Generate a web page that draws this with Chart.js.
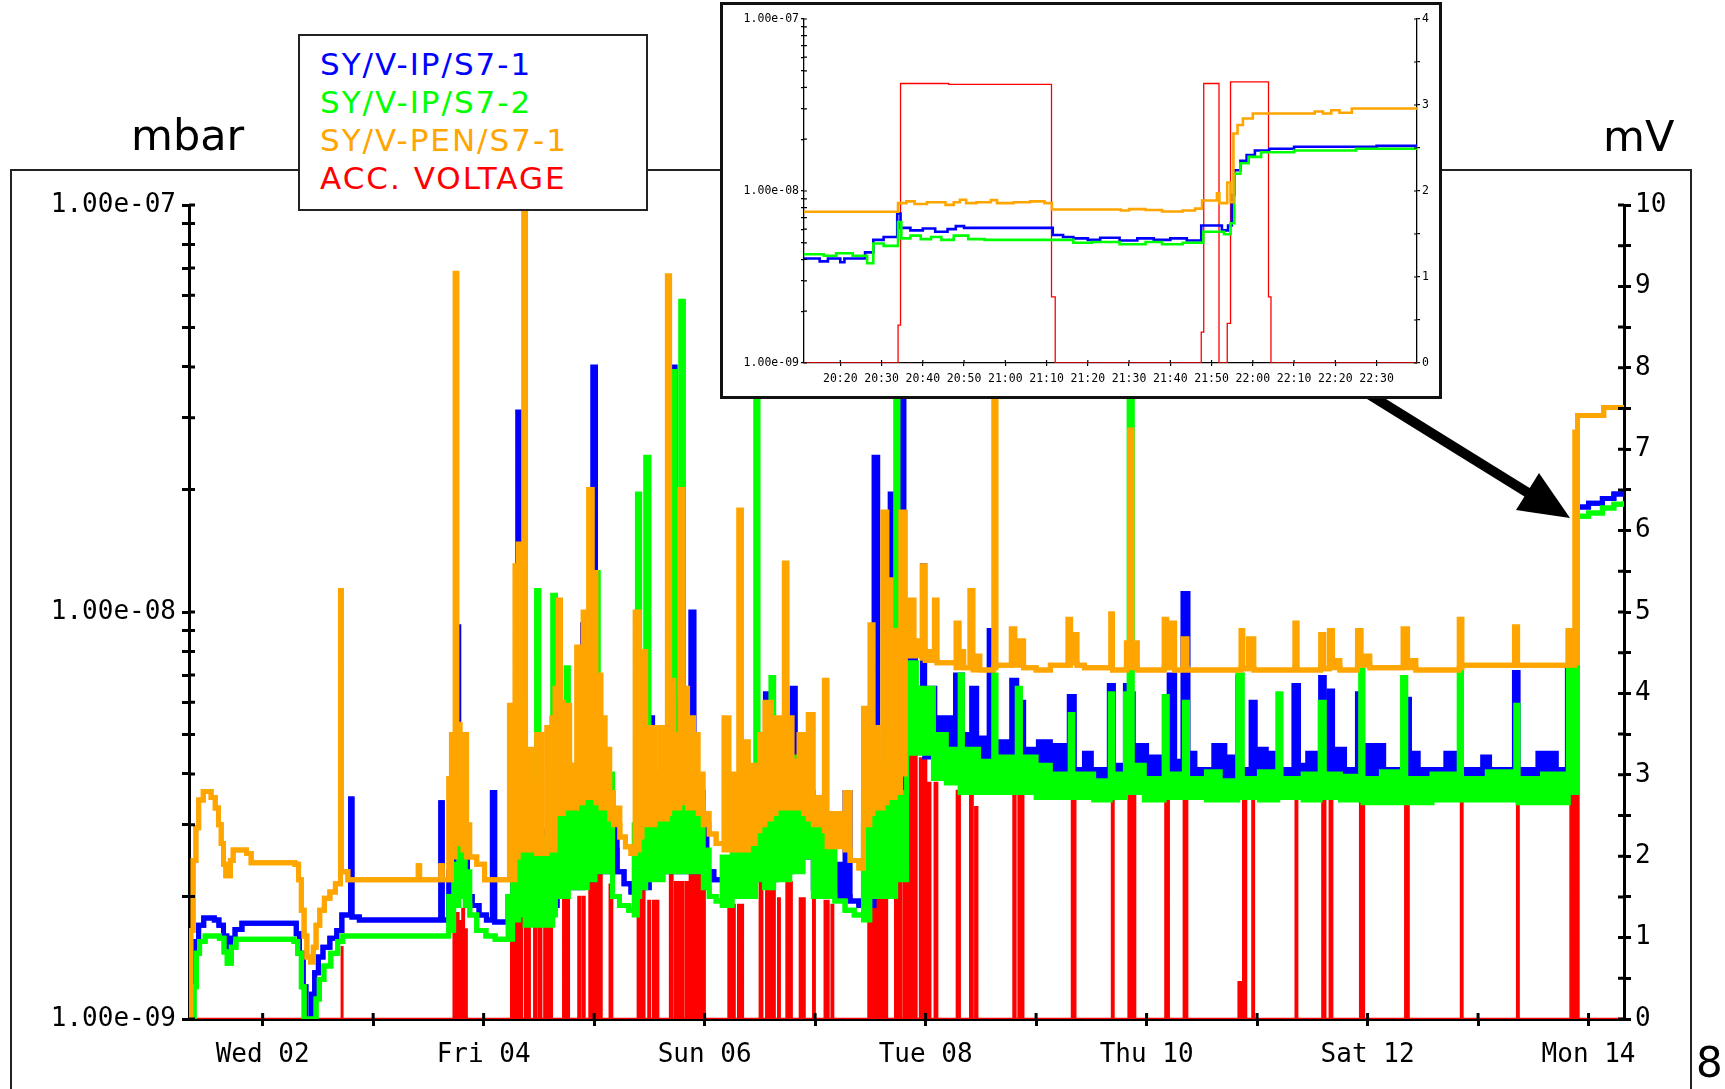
<!DOCTYPE html>
<html>
<head>
<meta charset="utf-8">
<title>SY vacuum and acceleration voltage</title>
<script src="https://cdn.jsdelivr.net/npm/chart.js@4.4.1/dist/chart.umd.min.js"></script>
<style>
  html, body { margin: 0; padding: 0; background: #fff; }
  body { width: 1725px; height: 1089px; position: relative; overflow: hidden; font-family: "DejaVu Sans", sans-serif; }
  #frame { position: absolute; left: 10px; top: 169px; width: 1682px; height: 960px; box-sizing: border-box; border: 2px solid #222; }
  #main { position: absolute; left: 0; top: 0; }
  .unit { position: absolute; font-size: 43px; line-height: 43px; color: #000; white-space: nowrap; }
  #legend { position: absolute; left: 298px; top: 34px; width: 350px; height: 177px; box-sizing: border-box; border: 2px solid #222; background: #fff; padding: 9px 0 0 20px; font-size: 31px; line-height: 38px; letter-spacing: 2px; white-space: nowrap; }
  #arrow { position: absolute; left: 0; top: 0; }
  #inset { position: absolute; left: 720px; top: 2px; width: 722px; height: 397px; box-sizing: border-box; border: 3px solid #111; background: #fff; }
  #insetCanvas { position: absolute; left: 0; top: 0; }
</style>
</head>
<body>
<div id="frame"></div>
<canvas id="main" width="1725" height="1089" style="width:1725px;height:1089px"></canvas>
<div class="unit" style="left:131px;top:114px">mbar</div>
<div class="unit" style="left:1603px;top:115px">mV</div>
<div class="unit" style="left:1696px;top:1041px;font-size:42px">8</div>
<div id="legend">
  <div style="color:#0000ff">SY/V-IP/S7-1</div>
  <div style="color:#00ff00">SY/V-IP/S7-2</div>
  <div style="color:#ffa500">SY/V-PEN/S7-1</div>
  <div style="color:#ff0000">ACC. VOLTAGE</div>
</div>
<svg id="arrow" width="1725" height="1089">
  <line x1="1362" y1="390" x2="1530" y2="494" stroke="#000" stroke-width="10"/>
  <polygon points="1570,518 1516,510 1539,473" fill="#000"/>
</svg>
<div id="inset"><canvas id="insetCanvas" width="716" height="391" style="width:716px;height:391px"></canvas></div>

<script>
// hours counted from Wed 02 00:00
const dayTicks = [0, 24, 48, 72, 96, 120, 144, 168, 192, 216, 240, 264, 288]
const dayLabels = ['Wed 02', '', 'Fri 04', '', 'Sun 06', '', 'Tue 08', '', 'Thu 10', '', 'Sat 12', '', 'Mon 14']

const pressureTicks = [1e-9, 2e-9, 3e-9, 4e-9, 5e-9, 6e-9, 7e-9, 8e-9, 9e-9,
    1e-8, 2e-8, 3e-8, 4e-8, 5e-8, 6e-8, 7e-8, 8e-8, 9e-8, 1e-7]
const pressureLabels = { '1e-9': '1.00e-09', '1e-8': '1.00e-08', '1e-7': '1.00e-07' }

// [hour, low, high] - high omitted where the trace is a single line
const penS71 = [
    [-16, 1.0e-9], [-15.6, 1.65e-9], [-15.1, 2.45e-9], [-14.5, 2.95e-9], [-13.9, 3.45e-9], [-12.9, 3.62e-9],
    [-11.2, 3.5e-9], [-10.3, 3.3e-9], [-9.6, 3.0e-9], [-9.0, 2.7e-9], [-8.5, 2.4e-9], [-8.0, 2.25e-9],
    [-7.0, 2.45e-9], [-6.4, 2.6e-9], [-3.5, 2.55e-9], [-2.5, 2.42e-9], [7.0, 2.4e-9], [7.8, 2.2e-9],
    [8.4, 1.85e-9], [9.0, 1.6e-9], [9.6, 1.42e-9], [10.4, 1.38e-9], [11.0, 1.5e-9], [11.6, 1.7e-9],
    [12.4, 1.85e-9], [13.4, 1.98e-9], [14.6, 2.05e-9], [15.8, 2.15e-9], [16.9, 1.13e-8], [17.1, 2.3e-9],
    [18.5, 2.2e-9], [33.8, 2.38e-9], [34.1, 2.2e-9], [38.7, 2.38e-9], [39.0, 2.2e-9],
    [40.4, 2.2e-9, 3.9e-9], [41.0, 2.5e-9, 5.0e-9], [41.8, 2.8e-9, 6.8e-8], [42.2, 2.8e-9, 5.3e-9],
    [42.9, 2.7e-9, 3.6e-9], [43.5, 2.6e-9, 5.0e-9], [44.3, 2.5e-9, 3.0e-9], [45.0, 2.5e-9], [46.5, 2.4e-9],
    [48.2, 2.2e-9],
    [53.6, 2.2e-9, 5.9e-9], [54.8, 2.5e-9, 1.3e-8], [55.5, 2.6e-9, 1.47e-8], [56.3, 2.6e-9, 6.0e-9],
    [56.7, 3.0e-9, 9.8e-8], [57.1, 2.6e-9, 4.6e-9], [58.4, 2.6e-9, 3.85e-9], [59.5, 2.55e-9, 5.0e-9],
    [60.6, 2.55e-9], [61.7, 2.6e-9, 5.2e-9], [62.8, 2.6e-9, 5.5e-9], [63.5, 3.2e-9, 6.5e-9],
    [64.2, 3.2e-9, 1.07e-8], [64.7, 3.2e-9, 6.0e-9], [65.3, 3.3e-9, 5.9e-9], [66.7, 3.3e-9, 4.2e-9],
    [68.2, 3.4e-9, 8.2e-9], [68.7, 3.4e-9, 5.0e-9], [69.6, 3.5e-9, 1.0e-8], [70.3, 3.5e-9, 6.0e-9],
    [70.8, 3.5e-9, 2.0e-8], [71.6, 3.5e-9, 1.25e-8], [72.4, 3.4e-9, 7.0e-9], [73.5, 3.3e-9, 5.5e-9],
    [74.4, 3.3e-9, 4.6e-9], [75.4, 3.1e-9, 3.6e-9], [76.2, 3.0e-9, 3.3e-9], [77.6, 2.8e-9],
    [78.8, 2.65e-9], [80.0, 2.55e-9], [80.9, 2.6e-9, 1.0e-8], [81.8, 2.8e-9, 5.0e-9], [82.4, 3.0e-9, 8.0e-9],
    [83.2, 3.0e-9, 4.5e-9], [84.0, 3.0e-9, 5.2e-9], [85.2, 3.1e-9, 4.0e-9], [86.3, 3.1e-9, 5.2e-9],
    [87.9, 3.2e-9, 6.7e-8], [88.4, 3.3e-9, 6.8e-9], [89.3, 3.3e-9, 5.0e-9], [90.6, 3.4e-9, 2.0e-8],
    [91.2, 3.4e-9, 6.5e-9], [92.3, 3.3e-9, 5.5e-9], [93.6, 3.3e-9, 5.0e-9], [94.6, 3.2e-9, 4.0e-9],
    [95.7, 3.0e-9, 3.2e-9], [97.0, 2.85e-9], [98.5, 2.7e-9], [100.2, 2.6e-9, 5.5e-9], [101.3, 2.6e-9, 4.0e-9],
    [102.6, 2.6e-9, 3.2e-9], [103.4, 2.8e-9, 1.78e-8], [104.0, 2.6e-9, 4.8e-9], [105.5, 2.7e-9, 4.2e-9],
    [107.0, 2.9e-9, 3.3e-9], [108.0, 3.0e-9, 5.0e-9], [109.1, 3.1e-9, 6.0e-9], [110.5, 3.2e-9, 4.5e-9],
    [111.5, 3.3e-9, 5.5e-9], [113.3, 3.4e-9, 1.32e-8], [113.9, 3.3e-9, 5.5e-9], [115.0, 3.3e-9, 4.3e-9],
    [116.5, 3.3e-9, 5.0e-9], [117.5, 3.2e-9, 4.0e-9], [118.5, 3.1e-9, 5.6e-9], [119.6, 3.0e-9, 3.5e-9],
    [122.0, 2.9e-9, 6.8e-9], [122.6, 2.65e-9, 3.2e-9], [126.5, 2.6e-9, 3.6e-9], [127.6, 2.45e-9],
    [129.5, 2.35e-9], [130.5, 3.0e-9, 5.8e-9], [131.9, 3.2e-9, 9.3e-9], [132.6, 3.3e-9, 5.2e-9],
    [133.6, 3.3e-9, 4.2e-9], [134.7, 3.4e-9, 1.76e-8], [135.6, 3.5e-9, 1.2e-8], [136.5, 3.5e-9, 6.0e-9],
    [137.4, 3.6e-9, 9.0e-9], [138.6, 4.0e-9, 1.76e-8],
    [139.6, 7.8e-9, 1.07e-8], [141.5, 7.8e-9, 8.5e-9], [143.3, 7.7e-9, 1.3e-8], [143.9, 7.6e-9, 8.0e-9],
    [145.9, 7.6e-9, 1.07e-8], [146.5, 7.5e-9], [150.6, 7.3e-9, 9.4e-9], [151.3, 7.3e-9, 8.0e-9],
    [152.3, 7.3e-9], [153.6, 7.3e-9, 1.13e-8], [154.3, 7.2e-9, 7.8e-9], [155.8, 7.2e-9],
    [158.8, 7.3e-9, 8.0e-8], [159.3, 7.4e-9], [162.6, 7.4e-9, 9.1e-9], [163.4, 7.4e-9, 8.5e-9],
    [165.3, 7.3e-9], [168.0, 7.2e-9], [171.1, 7.4e-9], [174.9, 7.4e-9, 9.6e-9], [175.5, 7.5e-9, 8.8e-9],
    [176.9, 7.4e-9], [178.5, 7.3e-9], [184.2, 7.3e-9, 9.9e-9], [184.6, 7.2e-9], [187.6, 7.3e-9, 8.4e-9],
    [188.3, 7.3e-9, 2.8e-8], [188.8, 7.3e-9, 8.4e-9], [190.0, 7.2e-9], [195.8, 7.3e-9, 9.6e-9],
    [196.4, 7.3e-9], [197.4, 7.3e-9, 9.4e-9], [198.1, 7.2e-9], [199.9, 7.3e-9, 8.6e-9], [200.8, 7.2e-9],
    [212.5, 7.3e-9, 9.0e-9], [212.9, 7.25e-9], [214.1, 7.3e-9, 8.6e-9], [215.3, 7.2e-9],
    [224.2, 7.3e-9, 9.4e-9], [224.7, 7.2e-9], [229.8, 7.3e-9, 8.8e-9], [230.5, 7.25e-9],
    [231.7, 7.3e-9, 9.0e-9], [232.4, 7.3e-9, 7.6e-9], [234.0, 7.2e-9], [237.8, 7.4e-9, 9.0e-9],
    [238.6, 7.4e-9, 7.8e-9], [240.5, 7.3e-9], [247.7, 7.3e-9, 9.1e-9], [248.7, 7.3e-9, 7.6e-9],
    [250.5, 7.2e-9], [259.9, 7.3e-9, 9.6e-9], [260.5, 7.4e-9], [271.9, 7.4e-9, 9.2e-9], [272.6, 7.4e-9],
    [283.5, 7.4e-9, 9.0e-9], [285.0, 7.5e-9, 2.77e-8], [285.6, 3.04e-8], [291.3, 3.18e-8], [295.7, 3.18e-8]
]

const ipS72 = [
    [-16, 1.0e-9], [-14.9, 1.2e-9], [-14.4, 1.45e-9], [-13.7, 1.55e-9], [-12.5, 1.6e-9], [-9.4, 1.58e-9],
    [-8.4, 1.46e-9], [-7.7, 1.37e-9], [-6.8, 1.5e-9], [-5.8, 1.57e-9], [6.8, 1.55e-9], [7.6, 1.45e-9],
    [8.4, 1.2e-9], [9.0, 1.0e-9], [11.6, 1.12e-9], [12.3, 1.25e-9], [13.3, 1.35e-9], [14.8, 1.45e-9],
    [16.3, 1.55e-9], [17.4, 1.6e-9], [40.4, 1.65e-9, 2.0e-9], [41.5, 1.9e-9, 2.4e-9], [42.6, 2.0e-9, 2.75e-9],
    [44.0, 1.9e-9, 2.3e-9], [45.0, 1.8e-9], [46.5, 1.65e-9], [48.5, 1.6e-9], [50.5, 1.57e-9],
    [53.3, 1.57e-9, 2.0e-9], [54.3, 1.75e-9, 3.0e-9], [55.6, 1.8e-9, 3.6e-9], [57.0, 1.7e-9, 2.9e-9],
    [59.5, 1.7e-9, 1.13e-8], [60.0, 1.7e-9, 2.8e-9], [63.0, 1.8e-9, 1.1e-8], [63.6, 2.0e-9, 4.2e-9],
    [65.9, 2.0e-9, 7.3e-9], [66.4, 2.1e-9, 4.2e-9], [68.5, 2.1e-9, 3.4e-9], [70.5, 2.2e-9, 4.0e-9],
    [72.2, 2.3e-9, 1.25e-8], [72.9, 2.3e-9, 4.0e-9], [76.0, 2.0e-9], [77.5, 1.9e-9], [79.5, 1.85e-9],
    [80.7, 1.8e-9, 3.0e-9], [81.4, 2.0e-9, 1.95e-8], [81.9, 2.1e-9, 3.8e-9], [83.2, 2.2e-9, 2.4e-8],
    [83.9, 2.2e-9, 3.6e-9], [85.5, 2.2e-9, 3.1e-9], [87.0, 2.3e-9, 4.0e-9], [89.0, 2.4e-9, 3.9e-8],
    [89.6, 2.3e-9, 3.8e-9], [90.8, 2.3e-9, 5.8e-8], [91.4, 2.3e-9, 4.0e-9], [93.5, 2.3e-9, 3.4e-9],
    [95.7, 2.1e-9, 2.6e-9], [97.0, 2.0e-9], [98.5, 1.95e-9], [99.8, 1.9e-9, 2.5e-9], [102.0, 2.0e-9, 2.9e-9],
    [107.1, 2.2e-9, 9.0e-8], [107.6, 2.2e-9, 3.3e-9], [109.0, 2.1e-9, 4.0e-9], [110.4, 2.1e-9, 6.9e-9],
    [111.0, 2.2e-9, 4.0e-9], [114.5, 2.3e-9, 4.4e-9], [117.4, 2.5e-9, 3.6e-9], [119.6, 2.0e-9, 3.2e-9],
    [124.3, 1.95e-9], [126.5, 1.85e-9], [128.5, 1.8e-9], [130.5, 1.75e-9, 3.0e-9], [131.9, 2.0e-9, 3.6e-9],
    [137.5, 2.2e-9, 9.0e-8], [138.0, 2.2e-9, 3.6e-9], [139.9, 4.5e-9, 7.5e-9], [142.0, 4.5e-9, 6.5e-9],
    [145.7, 3.9e-9, 5.0e-9], [148.5, 3.8e-9, 4.6e-9], [151.5, 3.6e-9, 7.0e-9], [152.0, 3.6e-9, 4.6e-9],
    [155.5, 3.6e-9, 4.3e-9], [158.8, 3.6e-9, 7.0e-9], [159.3, 3.6e-9, 4.4e-9], [163.9, 3.6e-9, 6.5e-9],
    [164.6, 3.6e-9, 4.4e-9], [168.0, 3.5e-9, 4.2e-9], [171.1, 3.5e-9, 4.0e-9], [175.4, 3.6e-9, 5.6e-9],
    [176.0, 3.5e-9, 4.0e-9], [180.5, 3.45e-9, 3.85e-9], [184.1, 3.6e-9, 6.3e-9], [184.7, 3.5e-9, 4.0e-9],
    [187.4, 3.6e-9, 6.3e-9], [188.2, 3.6e-9, 6.0e-8], [188.9, 3.6e-9, 4.2e-9], [191.5, 3.45e-9, 3.9e-9],
    [195.8, 3.6e-9, 6.2e-9], [196.5, 3.5e-9, 4.0e-9], [200.2, 3.6e-9, 6.0e-9], [200.9, 3.5e-9, 3.9e-9],
    [205.0, 3.45e-9, 4.05e-9], [208.0, 3.45e-9, 3.85e-9], [211.8, 3.6e-9, 7.0e-9], [212.8, 3.5e-9, 3.9e-9],
    [216.5, 3.45e-9, 4.05e-9], [220.5, 3.6e-9, 6.3e-9], [221.2, 3.5e-9, 3.9e-9], [226.0, 3.45e-9, 4.0e-9],
    [229.7, 3.6e-9, 6.0e-9], [230.6, 3.5e-9, 4.0e-9], [234.1, 3.45e-9, 3.95e-9], [238.5, 3.5e-9, 7.2e-9],
    [239.0, 3.4e-9, 3.9e-9], [243.0, 3.4e-9, 4.05e-9], [247.6, 3.5e-9, 6.9e-9], [248.3, 3.4e-9, 3.9e-9],
    [254.0, 3.45e-9, 4.0e-9], [259.9, 3.5e-9, 7.2e-9], [260.4, 3.45e-9, 3.9e-9], [266.0, 3.45e-9, 4.05e-9],
    [272.2, 3.5e-9, 5.9e-9], [272.7, 3.4e-9, 3.9e-9], [278.0, 3.4e-9, 4.0e-9], [283.6, 3.6e-9, 7.4e-9],
    [285.6, 1.72e-8], [288.0, 1.75e-8], [291.0, 1.8e-8], [293.5, 1.84e-8], [295.7, 1.87e-8]
]

const ipS71 = [
    [-16, 1.0e-9], [-15.4, 1.3e-9], [-14.8, 1.55e-9], [-13.9, 1.7e-9], [-12.8, 1.77e-9], [-10.5, 1.75e-9],
    [-9.5, 1.7e-9], [-8.5, 1.6e-9], [-7.8, 1.47e-9], [-7.0, 1.58e-9], [-6.0, 1.66e-9], [-4.5, 1.72e-9],
    [6.5, 1.72e-9], [7.3, 1.62e-9], [8.0, 1.45e-9], [8.8, 1.2e-9], [9.4, 1.0e-9], [10.6, 1.15e-9],
    [11.3, 1.3e-9], [12.1, 1.42e-9], [13.1, 1.5e-9], [14.6, 1.58e-9], [16.1, 1.65e-9], [17.2, 1.8e-9],
    [19.1, 3.47e-9], [19.4, 1.78e-9], [21.0, 1.75e-9], [38.7, 3.4e-9], [39.0, 1.75e-9],
    [40.4, 1.9e-9, 2.3e-9], [42.1, 2.1e-9, 9.2e-9], [42.6, 2.1e-9, 2.6e-9], [44.5, 2.0e-9], [45.5, 1.9e-9],
    [47.0, 1.8e-9], [48.6, 1.75e-9], [49.9, 3.6e-9], [50.4, 1.73e-9], [53.3, 1.73e-9, 2.0e-9],
    [54.3, 1.9e-9, 2.6e-9], [55.4, 2.0e-9, 3.1e-8], [56.1, 1.9e-9, 2.8e-9], [58.0, 1.85e-9, 2.9e-9],
    [62.0, 1.9e-9, 2.6e-9], [64.0, 2.1e-9, 4.5e-9], [64.8, 2.1e-9, 3.5e-9], [69.5, 2.2e-9, 9.3e-9],
    [70.2, 2.2e-9, 3.8e-9], [71.7, 2.3e-9, 4.0e-8], [72.3, 2.3e-9, 3.9e-9], [76.0, 2.6e-9, 3.1e-9],
    [77.0, 2.3e-9], [78.5, 2.15e-9], [80.0, 2.05e-9], [81.0, 2.1e-9, 3.6e-9], [84.0, 2.3e-9, 5.5e-9],
    [84.7, 2.3e-9, 3.6e-9], [88.9, 2.4e-9, 4.0e-8], [89.6, 2.3e-9, 5.9e-9], [90.4, 2.3e-9, 3.6e-9],
    [93.0, 2.4e-9, 1.0e-8], [93.7, 2.3e-9, 3.6e-9], [95.7, 2.4e-9, 3.0e-9], [96.5, 2.3e-9], [98.0, 2.2e-9],
    [100.0, 2.1e-9, 2.3e-9], [104.4, 2.2e-9, 3.1e-9], [106.6, 2.2e-9, 2.6e-9], [109.2, 2.2e-9, 6.3e-9],
    [109.9, 2.2e-9, 4.0e-9], [111.5, 2.3e-9, 4.0e-9], [115.0, 2.6e-9, 6.5e-9], [115.7, 2.6e-9, 4.0e-9],
    [118.2, 2.5e-9, 3.6e-9], [119.6, 2.1e-9, 3.0e-9], [123.0, 2.0e-9, 3.2e-9], [124.0, 2.0e-9, 2.4e-9],
    [126.5, 2.0e-9, 3.6e-9], [127.6, 1.95e-9], [129.5, 1.9e-9], [130.5, 1.9e-9, 3.0e-9],
    [132.8, 2.2e-9, 2.4e-8], [133.6, 2.2e-9, 4.0e-9], [136.3, 2.3e-9, 1.95e-8], [137.1, 2.3e-9, 4.0e-9],
    [138.7, 2.4e-9, 9.0e-8], [139.3, 2.4e-9, 4.0e-9], [139.9, 5.0e-9, 8.2e-9], [141.8, 4.6e-9, 6.5e-9],
    [143.3, 4.6e-9, 1.3e-8], [143.8, 4.4e-9, 6.5e-9], [146.0, 4.0e-9, 5.5e-9], [150.5, 4.0e-9, 7.0e-9],
    [152.0, 3.9e-9, 5.0e-9], [154.0, 3.9e-9, 6.5e-9], [155.1, 3.8e-9, 4.9e-9], [157.8, 3.9e-9, 9.0e-9],
    [158.5, 3.8e-9, 4.8e-9], [162.7, 3.8e-9, 6.8e-9], [163.8, 3.8e-9, 6.0e-9], [165.3, 3.7e-9, 4.6e-9],
    [168.5, 3.65e-9, 4.8e-9], [171.1, 3.65e-9, 4.7e-9], [174.8, 3.7e-9, 4.2e-9], [175.2, 3.7e-9, 6.2e-9],
    [176.3, 3.65e-9, 4.1e-9], [178.5, 3.6e-9, 4.5e-9], [180.0, 3.65e-9, 4.1e-9], [183.9, 3.7e-9, 6.6e-9],
    [184.8, 3.65e-9, 4.2e-9], [187.4, 3.7e-9, 6.6e-9], [188.0, 3.65e-9, 4.2e-9], [188.6, 3.7e-9, 6.3e-9],
    [189.1, 3.65e-9, 4.2e-9], [190.0, 3.6e-9, 4.7e-9], [192.0, 3.6e-9, 4.4e-9], [195.0, 3.55e-9, 4.1e-9],
    [196.9, 3.7e-9, 7.0e-9], [198.1, 3.65e-9, 4.3e-9], [199.9, 3.7e-9, 1.11e-8], [201.0, 3.6e-9, 4.5e-9],
    [202.5, 3.55e-9, 4.1e-9], [206.6, 3.55e-9, 4.7e-9], [209.0, 3.6e-9, 4.4e-9], [211.8, 3.7e-9, 6.9e-9],
    [212.4, 3.6e-9, 4.1e-9], [214.7, 3.7e-9, 6.0e-9], [215.6, 3.6e-9, 4.6e-9], [218.0, 3.55e-9, 4.5e-9],
    [220.0, 3.55e-9, 4.1e-9], [224.0, 3.7e-9, 6.6e-9], [225.0, 3.6e-9, 4.2e-9], [227.0, 3.55e-9, 4.5e-9],
    [229.0, 3.6e-9, 4.1e-9], [229.8, 3.7e-9, 6.9e-9], [230.6, 3.65e-9, 4.6e-9], [231.7, 3.7e-9, 6.4e-9],
    [232.4, 3.6e-9, 4.6e-9], [235.0, 3.55e-9, 4.1e-9], [237.8, 3.6e-9, 6.3e-9], [238.4, 3.5e-9, 4.7e-9],
    [243.5, 3.55e-9, 4.1e-9], [248.3, 3.6e-9, 6.1e-9], [249.1, 3.5e-9, 4.5e-9], [251.0, 3.5e-9, 4.1e-9],
    [257.0, 3.55e-9, 4.5e-9], [259.0, 3.5e-9, 4.1e-9], [265.0, 3.55e-9, 4.4e-9], [266.5, 3.55e-9, 4.1e-9],
    [271.9, 3.6e-9, 7.1e-9], [272.7, 3.5e-9, 4.1e-9], [277.0, 3.55e-9, 4.5e-9], [281.0, 3.55e-9, 4.1e-9],
    [283.4, 3.6e-9, 7.2e-9], [284.5, 3.6e-9, 4.4e-9], [285.6, 1.81e-8], [288.0, 1.85e-8], [291.0, 1.9e-8],
    [293.5, 1.95e-8], [295.7, 1.98e-8]
]

// [start hour, end hour, mV]
const accSpikes = [
    [17.2, 17.3, 0.88], [41.5, 41.9, 1.15], [42.1, 42.5, 1.3], [42.7, 43.0, 1.2], [43.4, 43.7, 1.35],
    [44.0, 44.3, 1.1], [54.0, 54.5, 1.45], [54.9, 55.3, 1.45], [55.8, 56.3, 1.45], [57.0, 57.3, 1.4],
    [57.7, 58.0, 1.4], [59.0, 59.4, 1.4], [60.0, 60.5, 1.4], [61.2, 61.5, 1.4], [62.0, 62.3, 1.4],
    [62.6, 62.8, 1.4], [65.3, 65.7, 1.48], [66.2, 66.5, 1.48], [68.6, 68.9, 1.5], [69.5, 69.9, 1.5],
    [71.0, 71.7, 1.91], [72.1, 72.6, 1.91], [73.0, 73.6, 1.91], [75.4, 75.9, 1.65], [81.5, 82.0, 2.1],
    [82.5, 82.9, 2.1], [83.8, 84.1, 1.45], [84.8, 85.1, 1.45], [85.6, 85.9, 1.45], [88.5, 89.0, 2.0],
    [89.6, 90.1, 1.68], [90.4, 90.7, 1.68], [91.0, 91.4, 1.68], [92.0, 92.4, 1.68], [92.8, 93.3, 1.9],
    [93.6, 94.0, 1.9], [94.3, 94.6, 1.9], [95.0, 95.4, 1.9], [95.7, 96.0, 1.9], [101.2, 101.6, 1.4],
    [102.1, 102.5, 1.4], [103.3, 103.6, 1.4], [104.0, 104.3, 1.4], [108.0, 108.5, 1.68], [109.4, 109.9, 1.68],
    [110.2, 110.5, 1.68], [110.8, 111.2, 1.68], [112.0, 112.3, 1.48], [113.8, 114.3, 1.68], [114.6, 114.9, 1.68],
    [116.7, 117.0, 1.48], [117.4, 117.7, 1.48], [119.6, 119.9, 1.48], [122.1, 122.5, 1.45], [122.7, 122.9, 1.45],
    [123.6, 123.9, 1.4], [131.6, 132.0, 1.26], [132.3, 133.0, 1.68], [133.3, 134.0, 1.68], [134.3, 134.8, 1.68],
    [135.1, 135.6, 1.48], [137.4, 138.0, 1.68], [138.3, 138.6, 1.68], [139.2, 139.7, 2.1], [139.9, 140.5, 3.26],
    [140.8, 141.3, 3.26], [141.6, 142.0, 3.26], [142.8, 143.3, 3.2], [143.6, 144.1, 3.2], [144.6, 145.0, 2.9],
    [146.0, 146.5, 2.9], [150.8, 151.4, 2.8], [153.7, 154.2, 2.8], [154.8, 155.2, 2.6], [163.1, 163.5, 2.8],
    [164.2, 164.5, 2.8], [164.8, 165.2, 2.8], [175.8, 176.5, 2.8], [184.5, 184.8, 2.8], [188.1, 188.6, 2.8],
    [188.9, 189.5, 2.8], [196.1, 196.8, 2.8], [200.1, 200.8, 2.8], [212.0, 212.8, 0.45], [213.0, 213.6, 2.8],
    [215.0, 215.3, 2.8], [224.4, 224.7, 2.8], [230.2, 230.8, 2.8], [231.8, 232.3, 2.8], [238.4, 239.2, 2.8],
    [248.2, 248.9, 2.8], [260.3, 260.6, 2.8], [272.5, 272.8, 2.8], [284.1, 284.7, 3.26], [285.0, 285.8, 3.26]
]

// inset: minutes counted from 20:00
const insetTicks = [20, 30, 40, 50, 60, 70, 80, 90, 100, 110, 120, 130, 140, 150]
const insetLabels = ['20:20', '20:30', '20:40', '20:50', '21:00', '21:10', '21:20',
    '21:30', '21:40', '21:50', '22:00', '22:10', '22:20', '22:30']

const insetPen = [
    [11.2, 7.57e-9], [34.0, 8.5e-9], [36.0, 8.7e-9], [38.0, 8.4e-9], [41.0, 8.6e-9], [45.5, 8.3e-9],
    [47.5, 8.6e-9], [49.0, 8.9e-9], [50.5, 8.5e-9], [53.0, 8.6e-9], [56.5, 8.85e-9], [58.0, 8.5e-9],
    [62.0, 8.6e-9], [66.0, 8.7e-9], [69.5, 8.5e-9], [71.3, 7.8e-9], [88.0, 7.7e-9], [90.0, 7.85e-9],
    [94.0, 7.75e-9], [98.0, 7.6e-9], [103.0, 7.7e-9], [106.0, 7.9e-9], [107.7, 8.8e-9], [111.3, 9.7e-9],
    [111.9, 8.5e-9], [113.8, 1.12e-8], [114.6, 8.6e-9], [115.3, 2.16e-8], [116.3, 2.42e-8], [117.6, 2.64e-8],
    [120.0, 2.82e-8], [135.0, 2.9e-8], [137.0, 2.82e-8], [139.0, 2.95e-8], [141.0, 2.85e-8], [144.0, 3.02e-8],
    [159.8, 3.02e-8]
]
const insetIp1 = [
    [11.2, 4.05e-9], [15.0, 3.9e-9], [17.0, 4.05e-9], [20.0, 3.85e-9], [21.0, 4.05e-9], [26.0, 4.4e-9],
    [28.0, 5.2e-9], [30.5, 5.4e-9], [33.8, 7.4e-9], [34.6, 6.1e-9], [37.0, 5.9e-9], [40.0, 6.05e-9],
    [43.0, 5.8e-9], [46.0, 6.0e-9], [48.0, 6.25e-9], [50.0, 6.1e-9], [71.5, 5.55e-9], [74.0, 5.4e-9],
    [76.5, 5.3e-9], [80.0, 5.2e-9], [83.0, 5.35e-9], [87.7, 5.15e-9], [92.0, 5.3e-9], [96.0, 5.2e-9],
    [100.0, 5.3e-9], [104.0, 5.15e-9], [107.5, 6.3e-9], [112.5, 5.9e-9], [114.0, 6.3e-9], [114.9, 9.5e-9],
    [115.5, 1.32e-8], [117.0, 1.5e-8], [118.5, 1.62e-8], [120.5, 1.72e-8], [124.0, 1.76e-8], [130.0, 1.81e-8],
    [150.0, 1.83e-8], [159.8, 1.83e-8]
]
const insetIp2 = [
    [11.2, 4.29e-9], [16.0, 4.2e-9], [19.0, 4.35e-9], [23.0, 4.2e-9], [26.5, 3.8e-9], [28.0, 4.95e-9],
    [30.5, 4.8e-9], [34.0, 6.6e-9], [34.8, 5.3e-9], [37.0, 5.5e-9], [39.5, 5.25e-9], [42.0, 5.4e-9],
    [44.5, 5.2e-9], [47.5, 5.5e-9], [51.0, 5.25e-9], [55.0, 5.2e-9], [76.5, 5.0e-9], [81.0, 5.05e-9],
    [87.7, 4.9e-9], [94.0, 5.05e-9], [98.0, 4.9e-9], [103.0, 5.0e-9], [108.0, 5.8e-9], [113.0, 5.6e-9],
    [114.6, 6.5e-9], [115.5, 1.26e-8], [117.0, 1.45e-8], [119.0, 1.58e-8], [122.0, 1.68e-8], [130.0, 1.72e-8],
    [145.0, 1.76e-8], [159.8, 1.78e-8]
]
const insetAcc = [
    [11.2, 0], [34.0, 0.44], [34.6, 3.25], [46.3, 3.24], [71.2, 0.77], [72.1, 0], [107.5, 0.36],
    [108.1, 3.25], [111.8, 0], [113.8, 0.46], [114.6, 3.27], [123.8, 0.77], [124.4, 0], [159.8, 0]
]

const BLUE = '#0000ff'
const GREEN = '#00ff00'
const ORANGE = '#ffa500'
const RED = '#ff0000'
const MONO = "'DejaVu Sans Mono', monospace"

// tick marks that cross the axis line, like the original plot
const crossTicks = {
    id: 'crossTicks',
    afterDraw(chart, args, opts) {
        const ctx = chart.ctx
        const area = chart.chartArea
        ctx.save()
        ctx.strokeStyle = '#000'
        ctx.lineWidth = opts.width
        ctx.beginPath()
        Object.values(chart.scales).forEach(scale => {
            scale.ticks.forEach((tick, i) => {
                const p = scale.getPixelForTick(i)
                if (scale.axis === 'x') {
                    ctx.moveTo(p, area.bottom)
                    ctx.lineTo(p, area.bottom - opts.length)
                } else if (scale.position === 'left') {
                    ctx.moveTo(area.left, p)
                    ctx.lineTo(area.left + opts.length, p)
                } else {
                    ctx.moveTo(area.right, p)
                    ctx.lineTo(area.right - opts.length, p)
                }
            })
        })
        ctx.stroke()
        ctx.restore()
    }
}

const trace = (data, color, width, extra) => Object.assign({
    data: data,
    borderColor: color,
    backgroundColor: color,
    borderWidth: width,
    stepped: true,
    pointRadius: 0,
    pointHoverRadius: 0,
    borderJoinStyle: 'miter',
    fill: false,
    yAxisID: 'y'
}, extra)

const lowOf = s => s.map(p => ({ x: p[0], y: p[1] }))
const highOf = s => s.map(p => ({ x: p[0], y: p.length > 2 ? p[2] : p[1] }))

const accPoints = [{ x: -16, y: 0 }]
accSpikes.forEach(([t0, t1, mv]) => {
    accPoints.push({ x: t0, y: mv }, { x: t1, y: 0 })
})
accPoints.push({ x: 295.7, y: 0 })

const axisGrid = (w, len) => ({ drawOnChartArea: false, color: '#000', lineWidth: w, tickLength: len })
const axisBorder = w => ({ color: '#000', width: w })

new Chart(document.getElementById('main').getContext('2d'), {
    type: 'line',
    data: {
        datasets: [
            trace(highOf(penS71), ORANGE, 5, { label: 'SY/V-PEN/S7-1', fill: 1 }),
            trace(lowOf(penS71), ORANGE, 5, { label: 'SY/V-PEN/S7-1 low' }),
            trace(highOf(ipS72), GREEN, 5, { label: 'SY/V-IP/S7-2', fill: 3 }),
            trace(lowOf(ipS72), GREEN, 5, { label: 'SY/V-IP/S7-2 low' }),
            trace(highOf(ipS71), BLUE, 5, { label: 'SY/V-IP/S7-1', fill: 5 }),
            trace(lowOf(ipS71), BLUE, 5, { label: 'SY/V-IP/S7-1 low' }),
            trace(accPoints, RED, 2.5, { label: 'ACC. VOLTAGE', yAxisID: 'y1', fill: 'origin' })
        ]
    },
    options: {
        responsive: false,
        animation: false,
        events: [],
        layout: { padding: { top: 205, left: 0, right: 0, bottom: 0 } },
        plugins: {
            legend: { display: false },
            tooltip: { enabled: false },
            crossTicks: { length: 6, width: 3 }
        },
        scales: {
            x: {
                type: 'linear',
                min: -16,
                max: 295.7,
                afterBuildTicks: s => { s.ticks = dayTicks.map(v => ({ value: v })) },
                afterFit: s => { s.height = 70 },
                ticks: {
                    callback: (v, i) => dayLabels[i],
                    autoSkip: false, maxRotation: 0, minRotation: 0,
                    color: '#000', padding: 14,
                    font: { family: MONO, size: 26 }
                },
                grid: axisGrid(3, 7),
                border: axisBorder(3)
            },
            y: {
                type: 'logarithmic',
                position: 'left',
                min: 1e-9,
                max: 1e-7,
                afterBuildTicks: s => { s.ticks = pressureTicks.map(v => ({ value: v })) },
                afterFit: s => { s.width = 189 },
                ticks: {
                    callback: v => pressureLabels[String(v)] || '',
                    autoSkip: false, color: '#000', padding: 6,
                    font: { family: MONO, size: 26 }
                },
                grid: axisGrid(3, 7),
                border: axisBorder(3)
            },
            y1: {
                type: 'linear',
                position: 'right',
                min: 0,
                max: 10,
                afterFit: s => { s.width = 101 },
                ticks: {
                    stepSize: 0.5,
                    callback: v => Number.isInteger(v) ? String(v) : '',
                    autoSkip: false, color: '#000', padding: 4,
                    font: { family: MONO, size: 26 }
                },
                grid: axisGrid(3, 7),
                border: axisBorder(3)
            }
        }
    },
    plugins: [crossTicks]
})

const pairs = s => s.map(p => ({ x: p[0], y: p[1] }))

new Chart(document.getElementById('insetCanvas').getContext('2d'), {
    type: 'line',
    data: {
        datasets: [
            trace(pairs(insetPen), ORANGE, 2.6, { label: 'SY/V-PEN/S7-1' }),
            trace(pairs(insetIp2), GREEN, 2.6, { label: 'SY/V-IP/S7-2' }),
            trace(pairs(insetIp1), BLUE, 2.6, { label: 'SY/V-IP/S7-1' }),
            trace(pairs(insetAcc), RED, 1.3, { label: 'ACC. VOLTAGE', yAxisID: 'y1' })
        ]
    },
    options: {
        responsive: false,
        animation: false,
        events: [],
        layout: { padding: { top: 14, left: 0, right: 0, bottom: 0 } },
        plugins: {
            legend: { display: false },
            tooltip: { enabled: false },
            crossTicks: { length: 3, width: 1.2 }
        },
        scales: {
            x: {
                type: 'linear',
                min: 11.2,
                max: 159.8,
                afterBuildTicks: s => { s.ticks = insetTicks.map(v => ({ value: v })) },
                afterFit: s => { s.height = 33 },
                ticks: {
                    callback: (v, i) => insetLabels[i],
                    autoSkip: false, maxRotation: 0, minRotation: 0,
                    color: '#000', padding: 6,
                    font: { family: MONO, size: 11.5 }
                },
                grid: axisGrid(1.2, 3),
                border: axisBorder(1.3)
            },
            y: {
                type: 'logarithmic',
                position: 'left',
                min: 1e-9,
                max: 1e-7,
                afterBuildTicks: s => { s.ticks = pressureTicks.map(v => ({ value: v })) },
                afterFit: s => { s.width = 81 },
                ticks: {
                    callback: v => pressureLabels[String(v)] || '',
                    autoSkip: false, color: '#000', padding: 2,
                    font: { family: MONO, size: 11.5 }
                },
                grid: axisGrid(1.2, 3),
                border: axisBorder(1.3)
            },
            y1: {
                type: 'linear',
                position: 'right',
                min: 0,
                max: 4,
                afterFit: s => { s.width = 22 },
                ticks: {
                    stepSize: 0.5,
                    callback: v => Number.isInteger(v) ? String(v) : '',
                    autoSkip: false, color: '#000', padding: 2,
                    font: { family: MONO, size: 11.5 }
                },
                grid: axisGrid(1.2, 3),
                border: axisBorder(1.3)
            }
        }
    },
    plugins: [crossTicks]
})
</script>
</body>
</html>
